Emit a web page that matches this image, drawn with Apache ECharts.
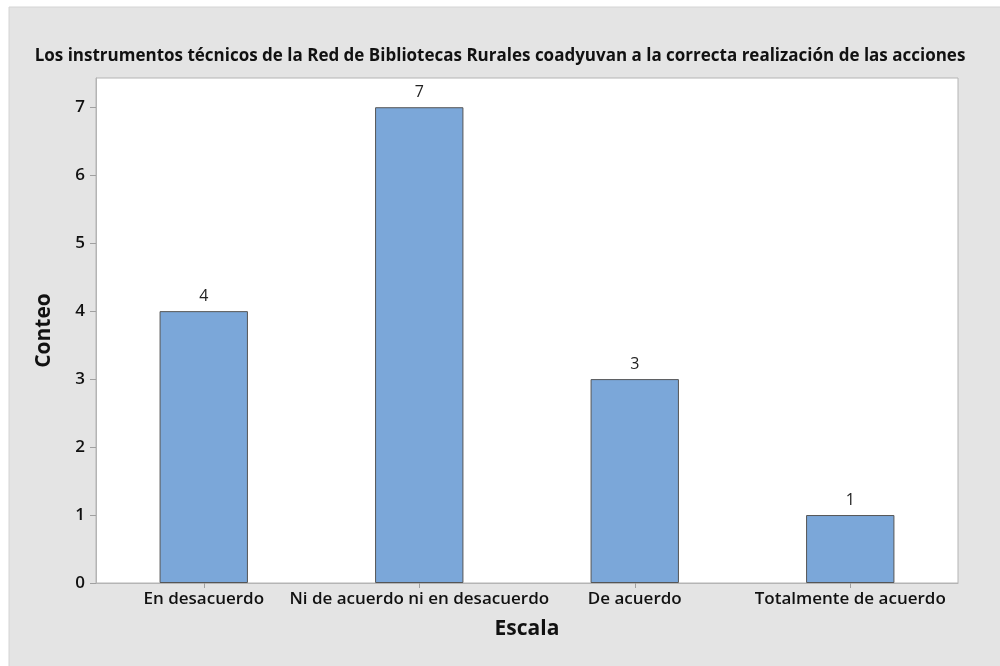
<!DOCTYPE html>
<html>
<head>
<meta charset="utf-8">
<script src="https://cdn.jsdelivr.net/npm/echarts@6/dist/echarts.min.js"></script>
<style>
  html, body { margin: 0; padding: 0; background: #ffffff; }
  #chart { width: 1000px; height: 666px; }
</style>
</head>
<body>
<div id="chart"></div>
<script>
// Response categories and counts
const categories = ['En desacuerdo', 'Ni de acuerdo ni en desacuerdo', 'De acuerdo', 'Totalmente de acuerdo'];
const counts = [4, 7, 3, 1];
const yTicks = [0, 1, 2, 3, 4, 5, 6, 7];

const chartTitle = 'Los instrumentos técnicos de la Red de Bibliotecas Rurales coadyuvan a la correcta realización de las acciones';
const fontFamily = '"Open Sans", "Noto Sans", sans-serif';

const chart = echarts.init(document.getElementById('chart'));
chart.setOption({
  backgroundColor: '#ffffff',
  animation: false,
  graphic: [{
    type: 'rect',
    z: -10,
    silent: true,
    shape: { x: 9, y: 7, width: 1000, height: 670 },
    style: { fill: '#e4e4e4', stroke: '#d4d4d4', lineWidth: 1 }
  }],
  title: {
    text: chartTitle,
    left: 'center',
    top: 43,
    textStyle: { fontFamily, fontSize: 17, fontWeight: 'bold', color: '#111' }
  },
  grid: {
    left: 96, top: 78, right: 42, bottom: 83,
    show: true,
    backgroundColor: '#ffffff',
    borderColor: '#b4b4b4',
    borderWidth: 1
  },
  xAxis: {
    type: 'category',
    data: categories,
    name: 'Escala',
    nameLocation: 'middle',
    nameGap: 36,
    nameTextStyle: { fontFamily, fontSize: 21, fontWeight: 'bold', color: '#111' },
    axisLine: { show: true, lineStyle: { color: '#b4b4b4' } },
    axisTick: { show: true, alignWithLabel: true, length: 5, lineStyle: { color: '#a0a0a0' } },
    axisLabel: { fontFamily, fontSize: 17, fontWeight: 600, color: '#111', margin: 8, interval: 0 }
  },
  yAxis: {
    type: 'value',
    min: 0,
    max: 7.43,
    interval: 1,
    name: 'Conteo',
    nameLocation: 'middle',
    nameGap: 41,
    nameTextStyle: { fontFamily, fontSize: 21, fontWeight: 'bold', color: '#111' },
    splitLine: { show: false },
    axisLine: { show: true, lineStyle: { color: '#b4b4b4' } },
    axisTick: { show: true, length: 6, customValues: yTicks, lineStyle: { color: '#a0a0a0' } },
    axisLabel: { fontFamily, fontSize: 17, fontWeight: 600, color: '#111', margin: 11, customValues: yTicks }
  },
  series: [{
    type: 'bar',
    data: counts,
    barWidth: '41%',
    itemStyle: { color: '#7ba7d9', borderColor: '#555555', borderWidth: 1 },
    label: {
      show: true,
      position: 'top',
      distance: 7,
      fontFamily,
      fontSize: 16,
      color: '#222'
    }
  }]
});
</script>
</body>
</html>
